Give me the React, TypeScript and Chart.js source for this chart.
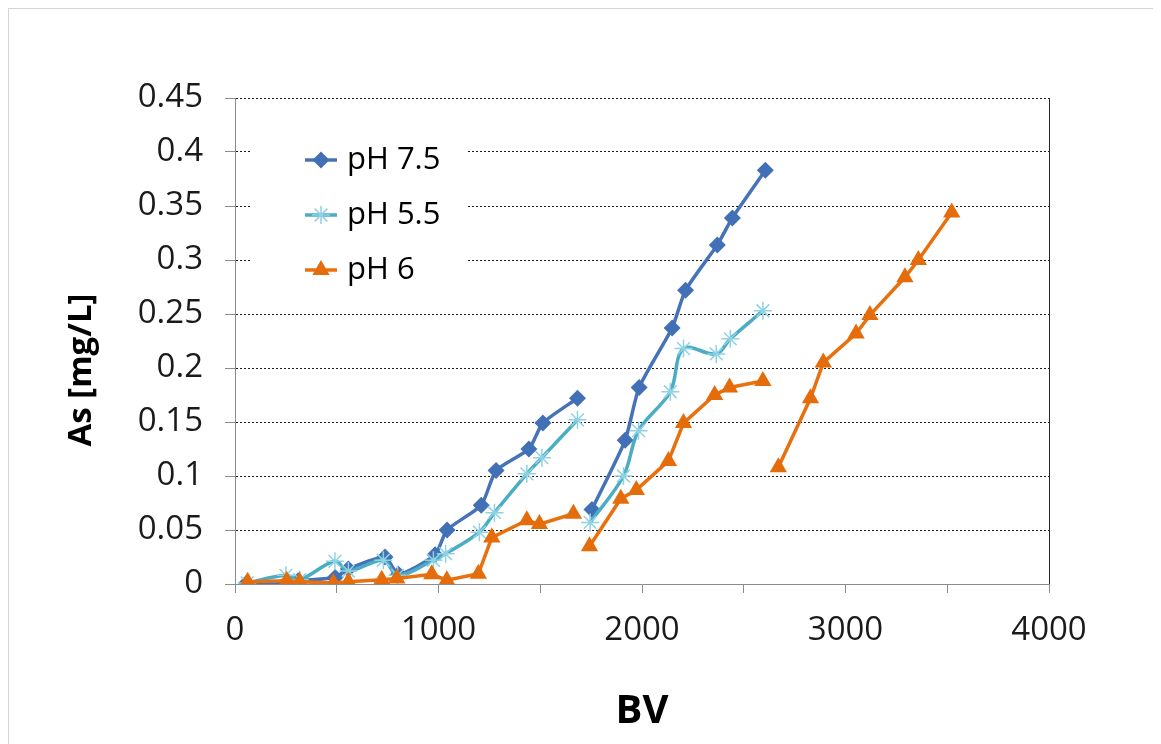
import { useEffect, useRef } from 'react';
import { Chart, registerables } from 'chart.js';

Chart.register(...registerables);

const seriesNames = ['pH 7.5', 'pH 5.5', 'pH 6'];

const bv75 = [57, 246, 311, 492, 557, 737, 803, 983, 1042, 1210, 1283, 1444, 1513, 1683, null, 1754, 1917, 1986, 2148, 2214, 2370, 2444, 2606];
const as75 = [0.001, 0.0, 0.003, 0.006, 0.014, 0.025, 0.009, 0.027, 0.05, 0.073, 0.105, 0.125, 0.149, 0.172, null, 0.069, 0.133, 0.182, 0.237, 0.272, 0.314, 0.339, 0.383];

const bv55 = [60, 250, 318, 491, 557, 729, 799, 975, 1035, 1201, 1275, 1434, 1508, 1683, null, 1745, 1909, 1983, 2139, 2204, 2365, 2434, 2594];
const as55 = [0.001, 0.008, 0.004, 0.021, 0.012, 0.022, 0.008, 0.022, 0.028, 0.048, 0.066, 0.102, 0.117, 0.152, null, 0.057, 0.1, 0.142, 0.178, 0.218, 0.213, 0.227, 0.253];

const bv6 = [62, 254, 318, 483, 557, 721, 795, 967, 1041, 1196, 1262, 1434, 1496, 1663, null, 1742, 1896, 1972, 2130, 2204, 2357, 2430, 2594, null, 2670, 2828, 2891, 3052, 3120, 3292, 3358, 3522];
const as6 = [0.002, 0.003, 0.002, 0.001, 0.002, 0.004, 0.005, 0.009, 0.0035, 0.0095, 0.043, 0.059, 0.0555, 0.065, null, 0.035, 0.079, 0.087, 0.114, 0.149, 0.175, 0.182, 0.188, null, 0.108, 0.172, 0.205, 0.232, 0.249, 0.284, 0.3, 0.344];

const xTickLabels = ['0', '1000', '2000', '3000', '4000'];
const yTickLabels = ['0', '0.05', '0.1', '0.15', '0.2', '0.25', '0.3', '0.35', '0.4', '0.45'];
const xTitle = 'BV';
const yTitle = 'As [mg/L]';

const FONT = "'Open Sans', 'DejaVu Sans', sans-serif";
const BLUE_LINE = '#4673B7';
const BLUE_MARK = '#4270B6';
const CYAN_LINE = '#4BACC6';
const CYAN_MARK = '#8FD2E2';
const ORANGE_LINE = '#E8700E';
const ORANGE_MARK = '#E46C0A';

const DIAMOND_R = 8.5;
const STAR_R = 9;
const TRI_R = 10;

function toPoints(xs: (number | null)[], ys: (number | null)[]) {
  return xs.map((x, i) => ({ x, y: ys[i] }));
}

function drawMarker(ctx: CanvasRenderingContext2D, kind: string, x: number, y: number, fill: string) {
  ctx.save();
  if (kind === 'diamond') {
    const r = DIAMOND_R;
    ctx.fillStyle = fill;
    ctx.beginPath();
    ctx.moveTo(x, y - r);
    ctx.lineTo(x + r, y);
    ctx.lineTo(x, y + r);
    ctx.lineTo(x - r, y);
    ctx.closePath();
    ctx.fill();
  } else if (kind === 'star') {
    const r = STAR_R;
    ctx.strokeStyle = fill;
    ctx.lineWidth = 1.5;
    ctx.beginPath();
    for (let k = 0; k < 4; k++) {
      const a = (k * Math.PI) / 4;
      ctx.moveTo(x + Math.cos(a) * r, y + Math.sin(a) * r);
      ctx.lineTo(x - Math.cos(a) * r, y - Math.sin(a) * r);
    }
    ctx.stroke();
  } else {
    const r = TRI_R;
    ctx.fillStyle = fill;
    ctx.beginPath();
    for (let k = 0; k < 3; k++) {
      const a = -Math.PI / 2 + (k * 2 * Math.PI) / 3;
      const px = x + Math.cos(a) * r;
      const py = y + Math.sin(a) * r;
      if (k === 0) ctx.moveTo(px, py);
      else ctx.lineTo(px, py);
    }
    ctx.closePath();
    ctx.fill();
  }
  ctx.restore();
}

const decorPlugin = {
  id: 'decor',
  afterDatasetsDraw(chart: any) {
    const { ctx, chartArea } = chart;
    const { left, right, top, bottom } = chartArea;
    ctx.save();
    // right border of plot area
    ctx.strokeStyle = '#262626';
    ctx.lineWidth = 1;
    ctx.beginPath();
    ctx.moveTo(right + 0.5, top);
    ctx.lineTo(right + 0.5, bottom);
    ctx.stroke();

    // legend
    ctx.fillStyle = '#ffffff';
    ctx.fillRect(left + 15, top + 30, 218, 170);
    const kinds = ['diamond', 'star', 'triangle'];
    const lineColors = [BLUE_LINE, CYAN_LINE, ORANGE_LINE];
    const markColors = [BLUE_MARK, CYAN_MARK, ORANGE_MARK];
    seriesNames.forEach((name, i) => {
      const cy = top + 62 + i * 55;
      const x0 = left + 70;
      const x1 = left + 102;
      ctx.strokeStyle = lineColors[i];
      ctx.lineWidth = 3.5;
      ctx.beginPath();
      ctx.moveTo(x0, cy);
      ctx.lineTo(x1, cy);
      ctx.stroke();
      drawMarker(ctx, kinds[i], (x0 + x1) / 2, cy, markColors[i]);
      ctx.fillStyle = '#000000';
      ctx.font = `31px ${FONT}`;
      ctx.textBaseline = 'middle';
      ctx.textAlign = 'left';
      ctx.fillText(name, left + 112, cy);
    });

    // axis titles
    ctx.fillStyle = '#000000';
    ctx.font = `bold 40px ${FONT}`;
    ctx.textAlign = 'center';
    ctx.textBaseline = 'middle';
    ctx.fillText(xTitle, (left + right) / 2, bottom + 128);

    ctx.save();
    ctx.translate(left - 153, top + 272);
    ctx.rotate(-Math.PI / 2);
    ctx.font = `bold 33px ${FONT}`;
    ctx.fillText(yTitle, 0, 0);
    ctx.restore();
    ctx.restore();
  },
};

export default function App() {
  const canvasRef = useRef<HTMLCanvasElement | null>(null);

  useEffect(() => {
    if (!canvasRef.current) return;
    const chart = new Chart(canvasRef.current, {
      type: 'line',
      data: {
        datasets: [
          {
            label: seriesNames[0],
            data: toPoints(bv75, as75) as any,
            borderColor: BLUE_LINE,
            backgroundColor: BLUE_MARK,
            borderWidth: 3.5,
            pointStyle: 'rectRot',
            pointRadius: DIAMOND_R,
            pointBorderWidth: 0,
            pointBackgroundColor: BLUE_MARK,
            pointBorderColor: BLUE_MARK,
            tension: 0.2,
            spanGaps: false,
            order: 3,
          },
          {
            label: seriesNames[1],
            data: toPoints(bv55, as55) as any,
            borderColor: CYAN_LINE,
            backgroundColor: CYAN_MARK,
            borderWidth: 3.5,
            pointStyle: 'star',
            pointRadius: STAR_R,
            pointBorderWidth: 1.5,
            pointBackgroundColor: CYAN_MARK,
            pointBorderColor: CYAN_MARK,
            tension: 0.35,
            spanGaps: false,
            order: 2,
          },
          {
            label: seriesNames[2],
            data: toPoints(bv6, as6) as any,
            borderColor: ORANGE_LINE,
            backgroundColor: ORANGE_MARK,
            borderWidth: 3.5,
            pointStyle: 'triangle',
            pointRadius: TRI_R,
            pointBorderWidth: 0,
            pointBackgroundColor: ORANGE_MARK,
            pointBorderColor: ORANGE_MARK,
            tension: 0,
            spanGaps: false,
            order: 1,
          },
        ],
      },
      options: {
        animation: false,
        responsive: false,
        maintainAspectRatio: false,
        events: [],
        layout: { padding: { top: 89, right: 104, left: 0, bottom: 0 } },
        plugins: {
          legend: { display: false },
          tooltip: { enabled: false },
          title: { display: false },
        },
        scales: {
          x: {
            type: 'linear',
            min: 0,
            max: 4000,
            afterFit: (scale: any) => {
              scale.height = 161;
            },
            ticks: {
              stepSize: 500,
              autoSkip: false,
              maxRotation: 0,
              padding: 18,
              color: '#1a1a1a',
              font: { family: FONT, size: 33 },
              callback: (v: any) => {
                const n = Number(v);
                if (n % 1000 !== 0) return '';
                return xTickLabels[n / 1000] ?? '';
              },
            },
            grid: {
              drawOnChartArea: false,
              drawTicks: true,
              tickLength: 9,
              tickColor: '#8c8c8c',
              tickBorderDash: [],
              color: '#8c8c8c',
            },
            border: { display: true, color: '#8c8c8c', width: 1 },
          },
          y: {
            type: 'linear',
            min: 0,
            max: 0.45,
            afterFit: (scale: any) => {
              scale.width = 226;
            },
            ticks: {
              stepSize: 0.05,
              autoSkip: false,
              padding: 22,
              color: '#1a1a1a',
              font: { family: FONT, size: 33 },
              callback: (v: any) => {
                const idx = Math.round(Number(v) / 0.05);
                return yTickLabels[idx] ?? '';
              },
            },
            grid: {
              drawOnChartArea: true,
              drawTicks: true,
              tickLength: 10,
              lineWidth: 1,
              color: (ctx: any) => (ctx.tick && ctx.tick.value === 0 ? 'rgba(0,0,0,0)' : '#1a1a1a'),
              tickColor: '#8c8c8c',
              tickBorderDash: [],
            },
            border: { display: true, color: '#8c8c8c', width: 1, dash: [2, 2] },
          },
        },
      },
      plugins: [decorPlugin],
    });
    return () => chart.destroy();
  }, []);

  return (
    <div style={{ width: 1144, height: 736, border: '1px solid #d4d4d4', background: '#fff' }}>
      <canvas ref={canvasRef} width={1144} height={736} style={{ display: 'block', width: 1144, height: 736 }} />
    </div>
  );
}
